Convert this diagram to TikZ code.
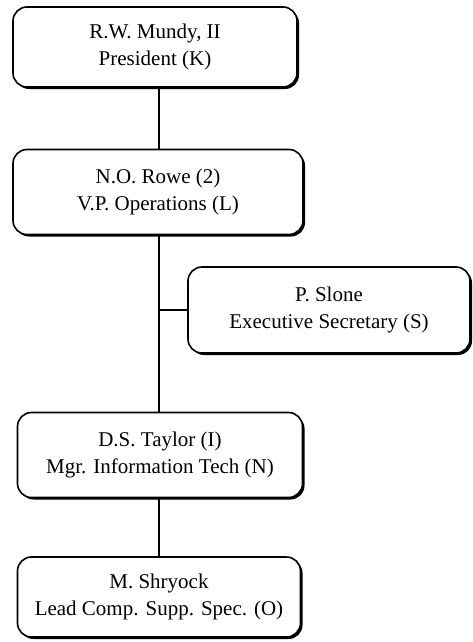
\documentclass[tikz,border=0pt]{standalone}
\usepackage{fontspec}
\setmainfont{Liberation Serif}
\usetikzlibrary{shadows}
\begin{document}
\begin{tikzpicture}[x=1pt,y=-1pt,
  person/.style={draw, line width=1.6pt, rounded corners=14pt, fill=white, align=center, inner sep=0pt,
    font=\fontsize{21}{27}\selectfont,
    drop shadow={shadow xshift=2pt, shadow yshift=-2pt, opacity=1, fill=black}},
  link/.style={line width=1.3pt}]
\useasboundingbox (0,0) rectangle (472,642);
\node[person, minimum width=284pt, minimum height=80pt] (k) at (155,47) {R.W. Mundy, II\\President (K)};
\node[person, minimum width=290pt, minimum height=85pt] (l) at (158,192) {N.O. Rowe (2)\\V.P. Operations (L)};
\node[person, minimum width=282pt, minimum height=86pt] (s) at (329,310) {P. Slone\\Executive Secretary (S)};
\node[person, minimum width=285pt, minimum height=85pt] (n) at (160,455) {D.S. Taylor (I)\\Mgr. Information Tech (N)};
\node[person, minimum width=283pt, minimum height=80pt] (o) at (159,597) {M. Shryock\\Lead Comp. Supp. Spec. (O)};
\coordinate (spine) at (159,0);
\draw[link] (k.south -| spine) -- (l.north -| spine);
\draw[link] (l.south -| spine) -- (n.north -| spine);
\draw[link] (s.west -| spine) -- (s.west);
\draw[link] (n.south -| spine) -- (o.north -| spine);
\end{tikzpicture}
\end{document}
